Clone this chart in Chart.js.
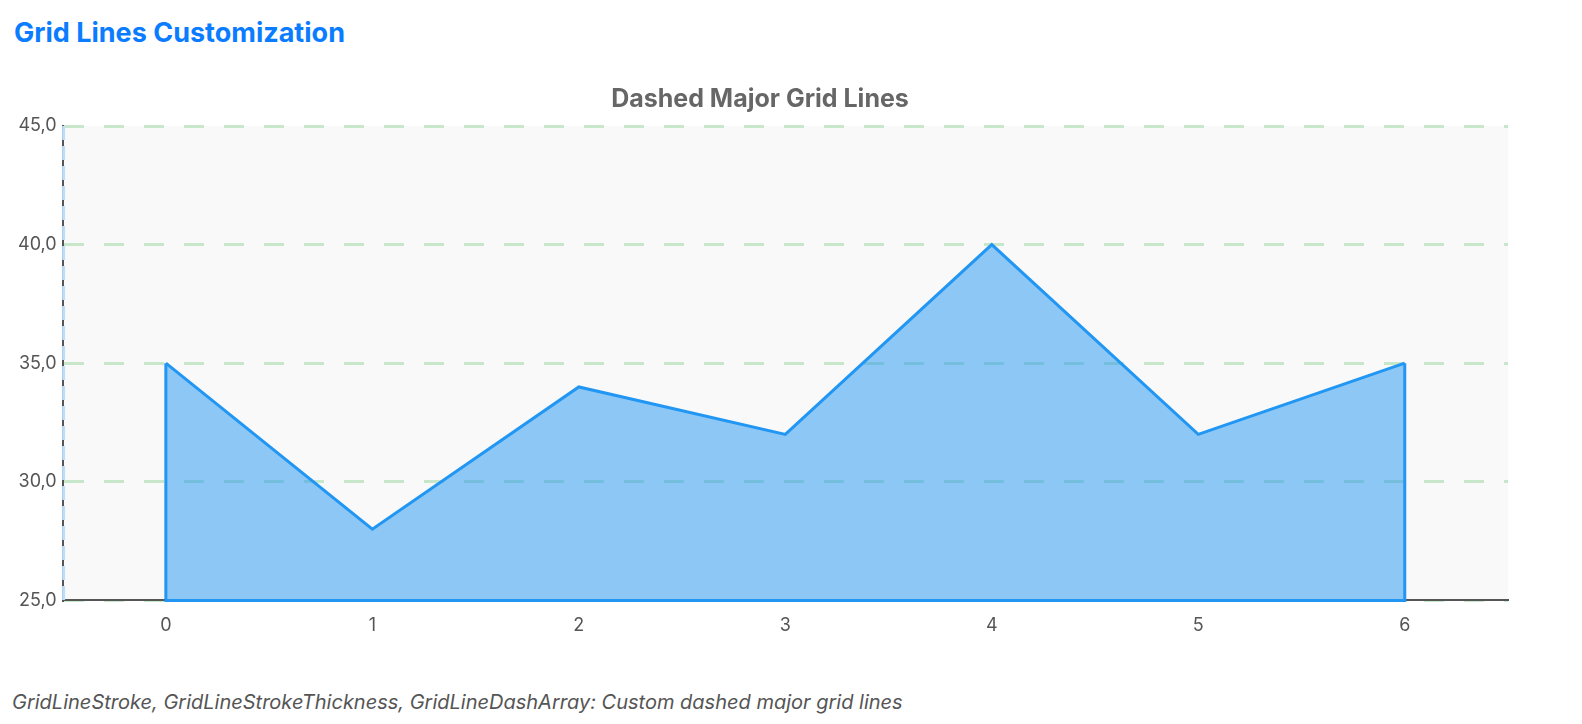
<!DOCTYPE html>
<html>
<head>
<meta charset="utf-8">
<script src="https://cdn.jsdelivr.net/npm/chart.js@4"></script>
<style>
  body { margin: 0; background: #fff; font-family: Inter, "Noto Sans", sans-serif; }
  h2 { position: absolute; left: 14px; top: 16px; margin: 0; font-size: 27px; font-weight: 700; color: #0a7cff; }
  #wrap { position: absolute; left: 12px; top: 80px; width: 1500px; height: 570px; }
  .note { position: absolute; left: 12px; top: 690px; font-size: 20px; font-style: italic; color: #555; }
</style>
</head>
<body>
<h2>Grid Lines Customization</h2>
<div id="wrap"><canvas id="chart"></canvas></div>
<div class="note">GridLineStroke, GridLineStrokeThickness, GridLineDashArray: Custom dashed major grid lines</div>
<script>
const categories = ["0", "1", "2", "3", "4", "5", "6"];
const values = [35, 28, 34, 32, 40, 32, 35];
const yMin = 25, yMax = 45;

// plot background + outline of the filled area down to the baseline
const areaPlugin = {
    id: "area",
    beforeDraw(chart) {
        const { ctx, chartArea: a } = chart;
        ctx.save();
        ctx.fillStyle = "#f9f9f9";
        ctx.fillRect(a.left, a.top, a.right - a.left, a.bottom - a.top);
        ctx.restore();
    },
    afterDatasetsDraw(chart) {
        const { ctx, scales } = chart;
        const x0 = scales.x.getPixelForValue(0);
        const x1 = scales.x.getPixelForValue(values.length - 1);
        const yb = scales.y.getPixelForValue(yMin);
        ctx.save();
        ctx.strokeStyle = "#2196f3";
        ctx.lineWidth = 3;
        ctx.beginPath();
        ctx.moveTo(x0, scales.y.getPixelForValue(values[0]));
        ctx.lineTo(x0, yb);
        ctx.lineTo(x1, yb);
        ctx.lineTo(x1, scales.y.getPixelForValue(values[values.length - 1]));
        ctx.stroke();
        // light blue dashed line on the y axis
        ctx.strokeStyle = "#bbdefb";
        ctx.setLineDash([14, 6]);
        ctx.beginPath();
        ctx.moveTo(scales.x.left + 1, scales.y.top);
        ctx.lineTo(scales.x.left + 1, scales.y.bottom);
        ctx.stroke();
        ctx.restore();
    }
};

new Chart(document.getElementById("chart"), {
    type: "line",
    data: {
        labels: categories,
        datasets: [{
            data: values,
            borderColor: "#2196f3",
            backgroundColor: "rgba(33,150,243,0.5)",
            borderWidth: 3,
            fill: "start",
            tension: 0,
            pointRadius: 0
        }]
    },
    options: {
        responsive: true,
        maintainAspectRatio: false,
        animation: false,
        layout: { padding: { right: 4 } },
        plugins: {
            legend: { display: false },
            tooltip: { enabled: false },
            title: {
                display: true,
                text: "Dashed Major Grid Lines",
                color: "#666",
                font: { size: 25, weight: "bold", family: "Inter" },
                padding: { top: 4, bottom: 12 }
            }
        },
        scales: {
            x: {
                offset: true,
                grid: { display: false, drawTicks: false },
                border: { color: "#555", width: 2, dash: [20, 20] },
                ticks: { color: "#555", font: { size: 18, family: "Inter" }, padding: 14 }
            },
            y: {
                min: yMin,
                max: yMax,
                ticks: {
                    stepSize: 5,
                    color: "#555",
                    font: { size: 18, family: "Inter" },
                    padding: 6,
                    callback: v => v.toFixed(1).replace(".", ",")
                },
                grid: { color: "#c8e6c9", lineWidth: 3, drawTicks: false },
                border: { color: "#555", width: 2, dash: [20, 20] }
            }
        }
    },
    plugins: [areaPlugin]
});
</script>
</body>
</html>
